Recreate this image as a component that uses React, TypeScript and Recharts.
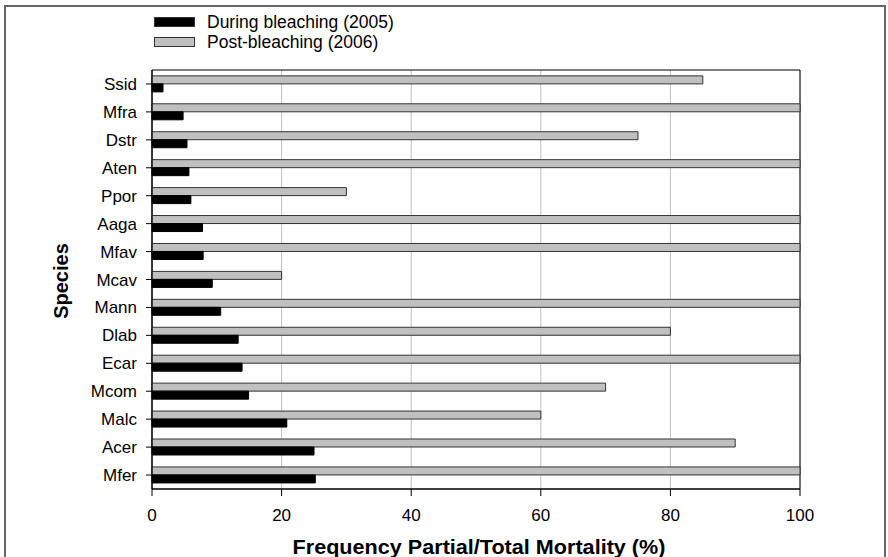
import { BarChart, Bar, XAxis, YAxis, CartesianGrid, ReferenceArea } from 'recharts';

const species = ['Ssid', 'Mfra', 'Dstr', 'Aten', 'Ppor', 'Aaga', 'Mfav', 'Mcav', 'Mann', 'Dlab', 'Ecar', 'Mcom', 'Malc', 'Acer', 'Mfer'];
const during2005 = [1.7, 4.8, 5.4, 5.7, 6.0, 7.8, 7.9, 9.3, 10.6, 13.3, 13.9, 14.9, 20.8, 25.0, 25.2];
const post2006 = [85, 100, 75, 100, 30, 100, 100, 20, 100, 80, 100, 70, 60, 90, 100];
const xTicks = [0, 20, 40, 60, 80, 100];

const data = species.map((name, i) => ({ name, during: during2005[i], post: post2006[i] }));

const FONT = '"Liberation Sans", Arial, sans-serif';

const legendItems = [
  { label: 'During bleaching (2005)', color: '#000000' },
  { label: 'Post-bleaching (2006)', color: '#c0c0c0' },
];

const ChartLegend = () => (
  <div style={{ position: 'absolute', left: 154, top: 12, fontFamily: FONT, fontSize: 17.5, color: '#000' }}>
    {legendItems.map((item) => (
      <div key={item.label} style={{ display: 'flex', alignItems: 'center', height: 20 }}>
        <span
          style={{
            display: 'inline-block',
            width: 39,
            height: 8,
            background: item.color,
            border: '1px solid #333',
            marginRight: 12,
          }}
        />
        {item.label}
      </div>
    ))}
  </div>
);

export default function App() {
  return (
    <div style={{ position: 'absolute', left: 0, top: 0, width: 888, height: 557, overflow: 'hidden', background: '#fff' }}>
      <div
        style={{
          position: 'absolute',
          left: 4,
          top: 5,
          width: 878,
          height: 600,
          border: '2px solid #666',
        }}
      />
      <div style={{ position: 'absolute', left: 0, top: 0 }}>
        <BarChart
          width={888}
          height={557}
          data={data}
          layout="vertical"
          margin={{ top: 70, right: 88, bottom: 38, left: 92 }}
          barCategoryGap="21%"
          barGap={0}
          style={{ fontFamily: FONT }}
        >
          <CartesianGrid horizontal={false} stroke="#c0c0c0" strokeWidth={1} />
          <XAxis
            type="number"
            domain={[0, 100]}
            ticks={xTicks}
            tickSize={7}
            tickMargin={13}
            tick={{ fill: '#000', fontSize: 17 }}
            axisLine={{ stroke: '#000' }}
            tickLine={{ stroke: '#000' }}
            height={30}
          />
          <YAxis
            type="category"
            dataKey="name"
            width={60}
            tickSize={6}
            tickMargin={9}
            tick={{ fill: '#000', fontSize: 17 }}
            axisLine={{ stroke: '#000' }}
            tickLine={{ stroke: '#000' }}
          />
          <Bar dataKey="post" fill="#c0c0c0" stroke="#333" strokeWidth={1} isAnimationActive={false} />
          <Bar dataKey="during" fill="#000" stroke="#000" strokeWidth={1} isAnimationActive={false} />
          <ReferenceArea x1={0} x2={100} fill="none" fillOpacity={0} stroke="#000" strokeWidth={1} />
        </BarChart>
      </div>
      <ChartLegend />
      <div
        style={{
          position: 'absolute',
          left: 61,
          top: 281,
          transform: 'translate(-50%, -50%) rotate(-90deg)',
          fontFamily: FONT,
          fontWeight: 'bold',
          fontSize: 20,
          whiteSpace: 'nowrap',
        }}
      >
        Species
      </div>
      <div
        style={{
          position: 'absolute',
          left: 479,
          top: 547,
          transform: 'translate(-50%, -50%) scaleX(1.08)',
          fontFamily: FONT,
          fontWeight: 'bold',
          fontSize: 20,
          whiteSpace: 'nowrap',
        }}
      >
        Frequency Partial/Total Mortality (%)
      </div>
    </div>
  );
}
